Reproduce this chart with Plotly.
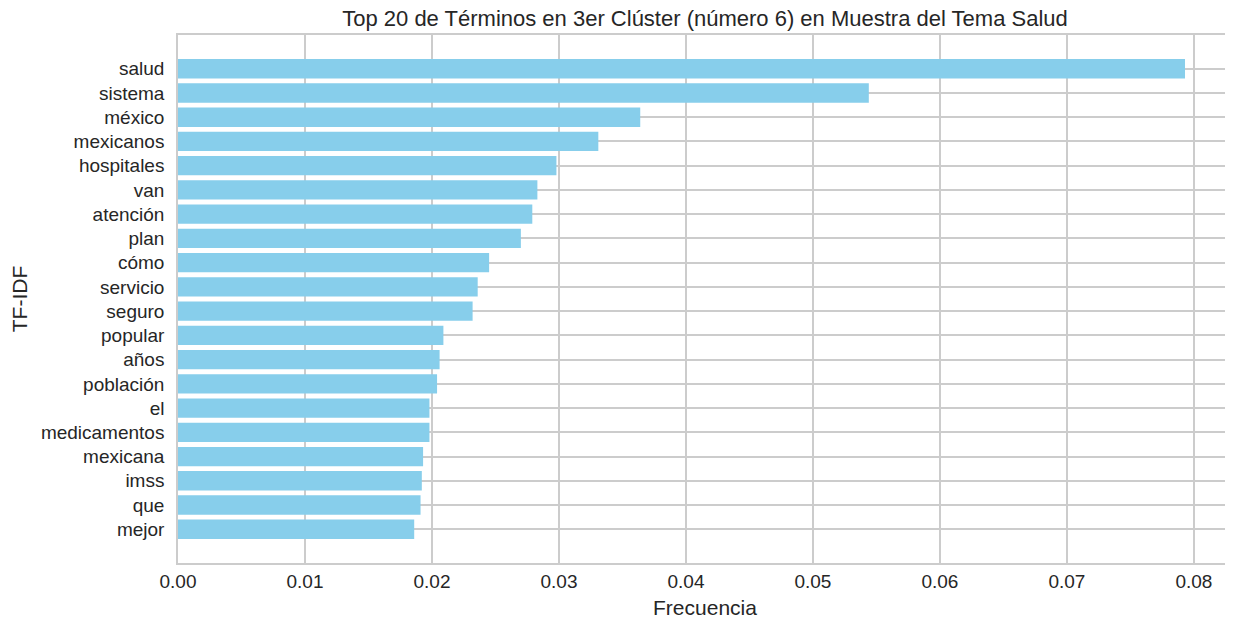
import plotly.graph_objects as go

# top 20 terms, top to bottom
terms = ["salud", "sistema", "méxico", "mexicanos", "hospitales", "van", "atención",
         "plan", "cómo", "servicio", "seguro", "popular", "años", "población", "el",
         "medicamentos", "mexicana", "imss", "que", "mejor"]
tfidf = [0.0793, 0.0544, 0.0364, 0.0331, 0.0298, 0.0283, 0.0279,
         0.0270, 0.0245, 0.0236, 0.0232, 0.0209, 0.0206, 0.0204, 0.0198,
         0.0198, 0.0193, 0.0192, 0.0191, 0.0186]
xticks = [0.00, 0.01, 0.02, 0.03, 0.04, 0.05, 0.06, 0.07, 0.08]

font = "Liberation Sans, Arial, sans-serif"
grid = "#cccccc"

fig = go.Figure()
fig.add_trace(go.Bar(
    x=tfidf, y=terms, orientation="h", width=0.8,
    marker=dict(color="#87CEEB", line=dict(width=0)),
))

n = len(terms)
# page body has an 8px margin, so shrink the figure to fit the window
W, H = 1225, 613
fig.update_layout(
    width=W, height=H,
    margin=dict(l=170, r=1, t=27, b=58, autoexpand=False),
    plot_bgcolor="white", paper_bgcolor="white",
    showlegend=False,
    font=dict(family=font, color="#262626"),
    title=dict(text="Top 20 de Términos en 3er Clúster (número 6) en Muestra del Tema Salud",
               x=697 / W, xanchor="center", yref="container", y=1 - 10 / H, yanchor="middle",
               font=dict(size=22, color="#262626")),
)
fig.update_xaxes(
    range=[0, 0.0830], tickvals=xticks, ticktext=[f"{v:.2f}" for v in xticks],
    showgrid=True, gridcolor=grid, gridwidth=1.5, zeroline=False,
    showline=True, mirror=True, linecolor=grid, linewidth=1.5,
    tickfont=dict(size=19), ticklabelstandoff=0, automargin=False,
    title=dict(text="Frecuencia", font=dict(size=21), standoff=10),
)
# right spine falls outside the reference's crop, so no mirror on y
fig.update_yaxes(
    type="category", categoryorder="array", categoryarray=terms,
    range=[n - 1 + 1.39, -1.39],
    showgrid=True, gridcolor=grid, gridwidth=1.5, zeroline=False,
    showline=True, mirror=False, linecolor=grid, linewidth=1.5,
    tickfont=dict(size=19), ticklabelstandoff=8, automargin=False,
    title=dict(text="TF-IDF", font=dict(size=21), standoff=14),
)

fig.write_html("out.html")
